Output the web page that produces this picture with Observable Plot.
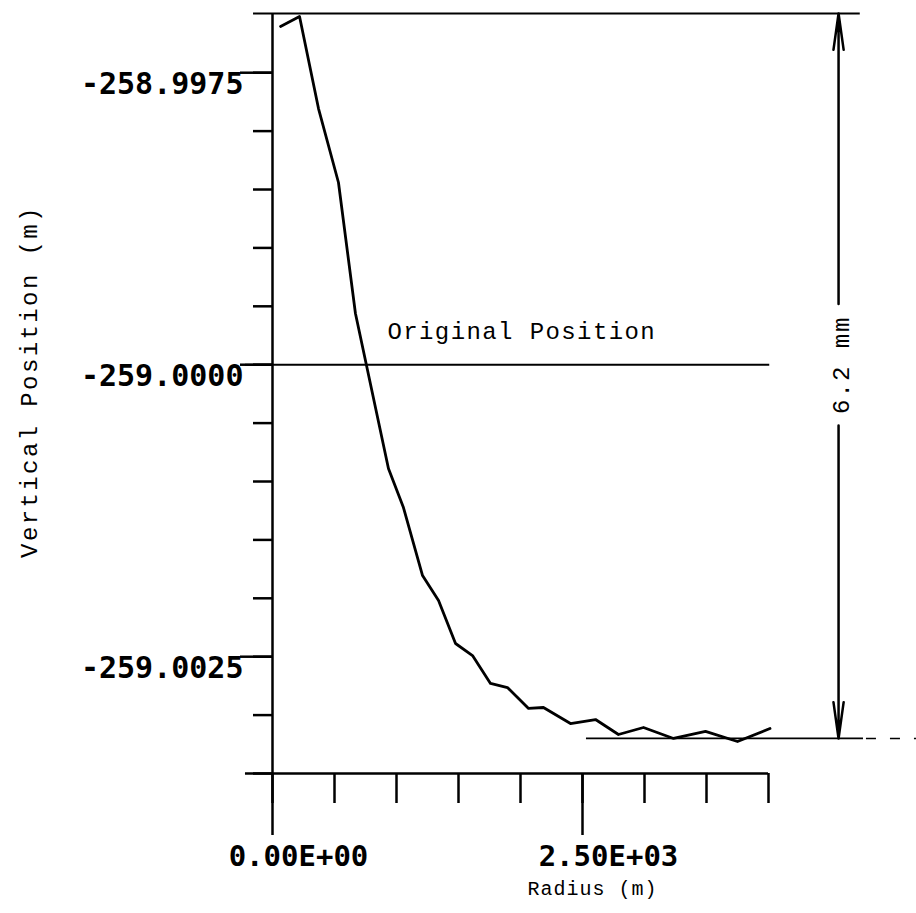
<!DOCTYPE html>
<html><head><meta charset="utf-8">
<script src="https://cdn.jsdelivr.net/npm/d3@7"></script>
<script src="https://cdn.jsdelivr.net/npm/@observablehq/plot@0.6"></script>
<style>body{margin:0;background:#fff} svg{display:block}</style>
</head><body><div id="chart"></div>
<script>
// Data (radius in m, vertical position in m)
const radius = [65, 218, 371, 532, 669, 935, 1056, 1210, 1339, 1476, 1613, 1758, 1895, 2065, 2185, 2403, 2605, 2790, 2992, 3234, 3492, 3750, 4012];
const position = [-258.997104, -258.997019, -258.997807, -258.998440, -258.999562, -259.000889, -259.001223, -259.001805, -259.002019, -259.002387, -259.002490, -259.002729, -259.002764, -259.002943, -259.002935, -259.003072, -259.003038, -259.003166, -259.003106, -259.003200, -259.003140, -259.003226, -259.003115];

// Axes
const xDomain = [0, 4000];
const yDomain = [-259.0035, -258.996993];
const xTicks = [0, 500, 1000, 1500, 2000, 2500, 3000, 3500, 4000];
const xMajorTicks = [0, 2500];
const xTickLabels = ["0.00E+00", "2.50E+03"];
const yTicks = [-259.0035, -259.0030, -259.0025, -259.0020, -259.0015, -259.0010, -259.0005, -259.0000, -258.9995, -258.9990, -258.9985, -258.9980, -258.9975];
const yMajorTicks = [-259.0025, -259.0000, -258.9975];
const yTickLabels = ["-259.0025", "-259.0000", "-258.9975"];

// Annotations
const originalPosition = -259.0;
const topRef = -258.996993;
const bottomRef = -259.003200;
const dimensionRadius = 4565;
const dimensionLabel = "6.2 mm";
const dimensionGap = 0.00052;

const data = radius.map((r, i) => ({r, v: position[i]}));
const bold = "'DejaVu Sans Mono', monospace";
const mono = "'Liberation Mono', 'Courier New', monospace";

const chart = Plot.plot({
  width: 916,
  height: 913,
  marginLeft: 272,
  marginRight: 148,
  marginTop: 13,
  marginBottom: 140,
  style: {background: "#fff", color: "#000", overflow: "visible"},
  x: {domain: xDomain, label: null},
  y: {domain: yDomain, label: null},
  marks: [
    // ticks
    Plot.axisY({ticks: yTicks, tickSize: 19, tickFormat: () => "", strokeWidth: 2.5, label: null}),
    Plot.axisY({ticks: yMajorTicks, tickSize: 32, tickFormat: () => "", strokeWidth: 2.5, label: null}),
    Plot.axisY({ticks: yMajorTicks, tickSize: 0, tickPadding: 29, dy: 12,
      tickFormat: d => yTickLabels[yMajorTicks.indexOf(d)],
      fontSize: 30, fontWeight: "bold", fontFamily: bold, label: null}),
    Plot.axisX({ticks: xTicks, tickSize: 30, tickFormat: () => "", strokeWidth: 2.5, label: null}),
    Plot.axisX({ticks: xMajorTicks, tickSize: 62, tickFormat: () => "", strokeWidth: 2.5, label: null}),
    Plot.axisX({ticks: xMajorTicks, tickSize: 0, tickPadding: 72, dx: 26,
      tickFormat: d => xTickLabels[xMajorTicks.indexOf(d)],
      fontSize: 29, fontWeight: "bold", fontFamily: bold, label: null}),
    // axis lines
    Plot.ruleX([0], {y1: yDomain[0], y2: yDomain[1], strokeWidth: 2.5}),
    Plot.ruleY([yDomain[0]], {x1: -218, x2: 4000, strokeWidth: 2.5}),
    // reference lines
    Plot.ruleY([topRef], {x1: -153, x2: 4740, strokeWidth: 2}),
    Plot.ruleY([originalPosition], {x1: -218, x2: 4010, strokeWidth: 2}),
    Plot.ruleY([bottomRef], {x1: 2532, x2: 4766, strokeWidth: 1.8}),
    Plot.ruleY([bottomRef], {x1: 4790, x2: 5194, strokeWidth: 1.5, strokeDasharray: "10,14"}),
    // dimension arrows
    Plot.arrow([{a: originalPosition + dimensionGap, b: topRef}, {a: originalPosition - dimensionGap, b: bottomRef}], {
      x1: () => dimensionRadius, x2: () => dimensionRadius, y1: "a", y2: "b",
      headLength: 22, headAngle: 16, strokeWidth: 2.5, stroke: "#000"}),
    // curve
    Plot.line(data, {x: "r", y: "v", stroke: "#000", strokeWidth: 2.8, strokeLinejoin: "round"}),
    // texts
    Plot.text(["Original Position"], {x: () => 927, y: () => originalPosition, dy: -33, textAnchor: "start",
      fontSize: 24, fontFamily: mono}),
    Plot.text([dimensionLabel], {x: () => dimensionRadius, y: () => originalPosition, dx: 3, rotate: -90,
      textAnchor: "middle", fontSize: 24, fontFamily: mono}),
    Plot.text(["Vertical Position (m)"], {frameAnchor: "left", dx: -243, dy: -12, rotate: -90,
      textAnchor: "middle", fontSize: 24, fontFamily: mono}),
    Plot.text(["Radius (m)"], {frameAnchor: "bottom", dx: 72, dy: 121, textAnchor: "middle",
      fontSize: 20, fontFamily: mono})
  ]
});

const sel = d3.select(chart);
const spacing = {"Original Position": "1.4px", "6.2 mm": "2px", "Vertical Position (m)": "2.4px", "Radius (m)": "1px"};
sel.selectAll("text").each(function() {
  const s = spacing[this.textContent];
  if (s) this.setAttribute("letter-spacing", s);
});
document.getElementById("chart").appendChild(chart);
</script>
</body></html>
